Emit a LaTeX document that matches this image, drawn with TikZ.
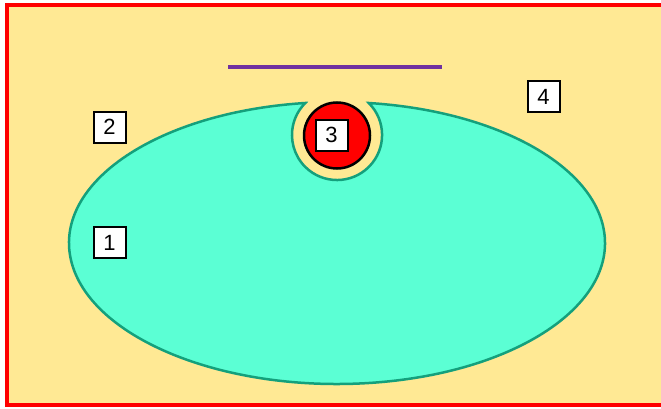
\documentclass[tikz,border=0pt]{standalone}
\usepackage{fontspec}
\setmainfont{Liberation Sans}
\usetikzlibrary{calc}
\definecolor{bgyellow}{HTML}{FFE994}
\definecolor{tealfill}{HTML}{5BFFD4}
\definecolor{tealline}{HTML}{14A07C}
\definecolor{purpleline}{HTML}{7030A0}
\tikzset{
  numbox/.style={draw=black, line width=2pt, fill=white, minimum width=32pt, minimum height=31pt, inner sep=0pt, font=\fontsize{22}{24}\selectfont},
}
\begin{document}
\begin{tikzpicture}[x=1pt,y=1pt]
\useasboundingbox (0,0) rectangle (661,408);
\clip (0,0) rectangle (661,408);
% background with red frame
\draw[red, line width=4.5pt, fill=bgyellow] (7,403) rectangle (670,3);
% purple line
\draw[purpleline, line width=4pt] (228,341) -- (442,341);
% notched ellipse
\path[fill=tealfill, draw=tealline, line width=2.5pt]
  ($(337,165)+(96.8:268pt and 141pt)$)
  arc[start angle=96.8, end angle=443.2, x radius=268pt, y radius=141pt]
  arc[start angle=45.27, end angle=-225.27, radius=45.04pt] -- cycle;
% red circle
\node[circle, draw=black, line width=2.5pt, fill=red, minimum size=66pt, inner sep=0pt] (rc) at (337,272.5) {};
% labels
\node[numbox] (n3) at (331.5,273) {3};
\node[numbox] (n2) at (109.5,281) {2};
\node[numbox] (n1) at (109.5,165.5) {1};
\node[numbox] (n4) at (543.5,311.5) {4};
\end{tikzpicture}
\end{document}
